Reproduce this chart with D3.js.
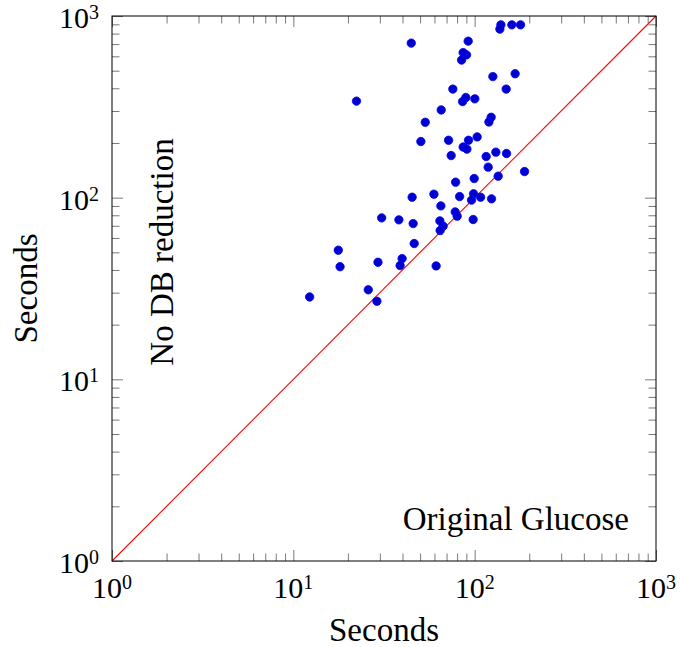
<!DOCTYPE html>
<html lang="en">
<head>
    <meta charset="UTF-8">
    <title>No DB reduction vs Original Glucose</title>
    <script src="https://d3js.org/d3.v7.min.js"></script>
    <style>
        body { margin: 0; background: #fff; }
        text { font-family: "Liberation Serif", "DejaVu Serif", serif; fill: #000; }
    </style>
</head>
<body>
    <svg id="chart" width="680" height="647"></svg>

    <script>
        // Runtimes in seconds: Original Glucose (x) vs No DB reduction (y)
        const originalGlucose = [
            139.5, 137.7, 160.3, 179.1, 44.7, 92.1, 86.4, 90.2, 84.7, 126,
            167.2, 75.8, 149.2, 22.3, 89.4, 85.8, 100.2, 65.4, 53.4, 123.3,
            119.8, 50.5, 71.8, 92.5, 103.2, 86.4, 90.6, 74.2, 115.7, 130.9,
            149.9, 118.7, 188.4, 134.8, 78.5, 99.4, 45.2, 59.6, 82.6, 98.6,
            96.1, 107.8, 123.9, 65.1, 78.1, 80.1, 98.1, 30.7, 38.2, 45.8,
            64.3, 67.0, 64.5, 46.4, 17.7, 18.1, 29.3, 39.8, 38.8, 61.3,
            25.9, 12.3, 28.9
        ];
        const noDbReduction = [
            894, 847, 894, 894, 709, 727, 629, 611, 572, 464,
            481, 396, 396, 340, 356, 338, 350, 304, 260, 277,
            261, 203.7, 207, 207, 216, 190, 185, 170.5, 168.4, 178,
            175, 147.2, 139.2, 131.3, 121.7, 127.4, 100.6, 104.5, 101.4, 105,
            96.9, 100.6, 98.5, 90.1, 83.5, 79.1, 75.8, 77.4, 75.5, 72.0,
            74.5, 69.7, 65.9, 55.9, 51.4, 41.7, 44.1, 46.2, 42.3, 42.1,
            31.1, 28.4, 26.9
        ];
        const majorTicks = [1, 10, 100, 1000];
        const tickExponents = ["0", "1", "2", "3"];
        const minorTicks = [2, 3, 4, 5, 6, 7, 8, 9, 20, 30, 40, 50, 60, 70, 80, 90,
            200, 300, 400, 500, 600, 700, 800, 900];

        const margin = { left: 112, top: 16 };
        const width = 544;
        const height = 545;

        const svg = d3.select("#chart");
        const g = svg.append("g")
            .attr("transform", `translate(${margin.left},${margin.top})`);

        const x = d3.scaleLog().domain([1, 1000]).range([0, width]);
        const y = d3.scaleLog().domain([1, 1000]).range([height, 0]);

        // ticks on all four sides, pointing inward
        function tickAxes(values, size) {
            const sides = [
                [d3.axisBottom(x), `translate(0,${height})`],
                [d3.axisTop(x), "translate(0,0)"],
                [d3.axisLeft(y), "translate(0,0)"],
                [d3.axisRight(y), `translate(${width},0)`]
            ];
            sides.forEach(([axis, tr]) => {
                g.append("g")
                    .attr("transform", tr)
                    .call(axis.tickValues(values).tickFormat("").tickSizeInner(-size).tickSizeOuter(0))
                    .call(a => a.select(".domain").remove())
                    .call(a => a.selectAll(".tick line").attr("stroke", "#7a7a7a").attr("stroke-width", 1));
            });
        }
        tickAxes(minorTicks, 7.5);
        tickAxes(majorTicks, 11);

        // diagonal y = x
        g.append("line")
            .attr("x1", x(1)).attr("y1", y(1))
            .attr("x2", x(1000)).attr("y2", y(1000))
            .attr("stroke", "#ff0000")
            .attr("stroke-width", 1.1);

        // data points
        g.selectAll("circle")
            .data(originalGlucose.map((v, i) => [v, noDbReduction[i]]))
            .enter().append("circle")
            .attr("cx", d => x(d[0]))
            .attr("cy", d => y(d[1]))
            .attr("r", 4.2)
            .attr("fill", "#0000cc")
            .attr("stroke", "#0000ff")
            .attr("stroke-width", 0.8);

        // frame
        g.append("rect")
            .attr("width", width)
            .attr("height", height)
            .attr("fill", "none")
            .attr("stroke", "#000")
            .attr("stroke-width", 1);

        // tick labels 10^n
        function powerLabel(sel) {
            sel.append("tspan").text("10");
            sel.append("tspan")
                .attr("dy", -9)
                .style("font-size", "20px")
                .text((d, i) => tickExponents[i]);
        }

        g.selectAll(".xlabel")
            .data(majorTicks)
            .enter().append("text")
            .attr("class", "xlabel")
            .attr("x", d => x(d))
            .attr("y", height + 37)
            .attr("text-anchor", "middle")
            .style("font-size", "30px")
            .call(powerLabel);

        g.selectAll(".ylabel")
            .data(majorTicks)
            .enter().append("text")
            .attr("class", "ylabel")
            .attr("x", -13)
            .attr("y", d => y(d) + 12)
            .attr("text-anchor", "end")
            .style("font-size", "30px")
            .call(powerLabel);

        // axis titles
        svg.append("text")
            .attr("x", margin.left + width / 2)
            .attr("y", 641)
            .attr("text-anchor", "middle")
            .style("font-size", "33px")
            .text("Seconds");

        svg.append("text")
            .attr("transform", `translate(37,${margin.top + height / 2}) rotate(-90)`)
            .attr("text-anchor", "middle")
            .style("font-size", "33px")
            .text("Seconds");

        // annotations
        svg.append("text")
            .attr("transform", "translate(173,252) rotate(-90)")
            .attr("text-anchor", "middle")
            .style("font-size", "33px")
            .text("No DB reduction");

        svg.append("text")
            .attr("x", 629)
            .attr("y", 530)
            .attr("text-anchor", "end")
            .style("font-size", "33px")
            .text("Original Glucose");
    </script>
</body>
</html>
